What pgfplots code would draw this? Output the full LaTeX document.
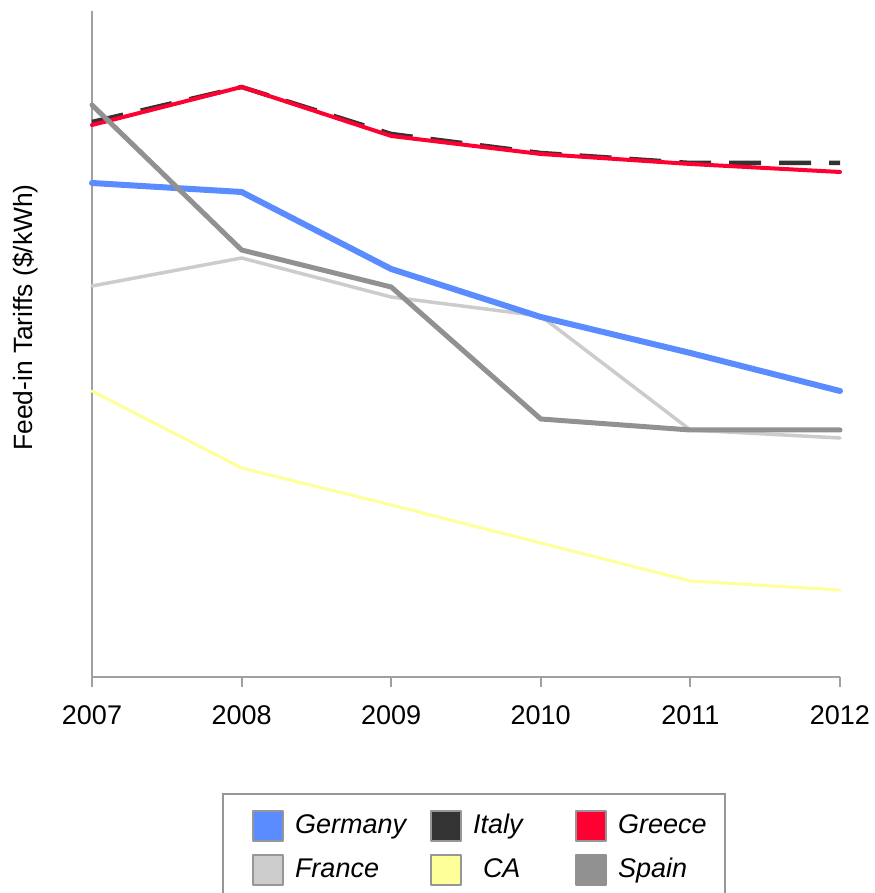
\documentclass[border=0pt]{standalone}
\usepackage{pgfplots}
\pgfplotsset{compat=1.18}
\usepackage{fontspec}
\setmainfont{Liberation Sans}

\definecolor{cGermany}{RGB}{90,140,255}
\definecolor{cItaly}{RGB}{51,51,51}
\definecolor{cGreece}{RGB}{255,0,51}
\definecolor{cFrance}{RGB}{204,204,204}
\definecolor{cCA}{RGB}{255,255,153}
\definecolor{cSpain}{RGB}{145,145,145}
\definecolor{axisgray}{RGB}{160,160,160}
\definecolor{legbord}{RGB}{150,150,150}

\pgfplotsset{
  sq/.style={legend image code/.code={
      \draw[line width=1pt,draw=legbord,fill=#1] (0pt,-7.5pt) rectangle (15pt,7.5pt);}},
}

\begin{document}
\begin{tikzpicture}
\path[use as bounding box] (-46pt,-108pt) rectangle (391pt,338.5pt);
\begin{axis}[
  at={(0,0)}, anchor=south west,
  scale only axis, width=374pt, height=333pt,
  xmin=2007, xmax=2012, ymin=0, ymax=0.666,
  axis x line=bottom, axis y line=left,
  axis line style={draw=axisgray, line width=1pt, -},
  xtick={2007,...,2012},
  xticklabels={2007,2008,2009,2010,2011,2012},
  ytick=\empty,
  x tick style={draw=axisgray, line width=1pt},
  tick align=outside, major tick length=5pt,
  xticklabel style={font=\fontsize{13.5}{16}\selectfont, yshift=-6pt},
  /pgf/number format/assume math mode=true,
  ylabel={Feed-in Tariffs (\$/kWh)},
  ylabel style={at={(axis description cs:-0.0896,0.5398)}, anchor=center,
                font=\fontsize{13.2}{15}\selectfont},
  clip=false,
  every axis plot/.append style={line cap=round, line join=round},
  legend columns=3,
  legend style={
    at={(axis description cs:0.1738,-0.1742)}, anchor=north west,
    draw=legbord, line width=1pt,
    inner xsep=14.5pt, inner ysep=8pt,
    column sep=0pt, row sep=6pt,
    font=\fontsize{13.5}{16}\selectfont\itshape,
    nodes={inner xsep=0pt, inner ysep=0pt, text height=9.5pt, text depth=2.5pt},
  },
]
% France and CA lie under the other series
\addplot[forget plot, color=cFrance, line width=1.75pt] coordinates {
  (2007,0.391) (2008,0.419) (2009,0.380) (2010,0.361) (2011,0.247) (2012,0.239)};
\addplot[forget plot, color=cCA, line width=1.5pt] coordinates {
  (2007,0.286) (2008,0.209) (2009,0.172) (2010,0.134) (2011,0.096) (2012,0.087)};
\addplot[forget plot, color=cGermany, line width=3pt] coordinates {
  (2007,0.494) (2008,0.485) (2009,0.408) (2010,0.360) (2011,0.324) (2012,0.286)};
\addplot[forget plot, color=cItaly, line width=2.25pt, line cap=butt,
         dash pattern=on 16pt off 9pt] coordinates {
  (2007,0.555) (2008,0.590) (2009,0.543) (2010,0.524) (2011,0.514) (2012,0.514)};
\addplot[forget plot, color=cGreece, line width=2pt] coordinates {
  (2007,0.552) (2008,0.590) (2009,0.541) (2010,0.523) (2011,0.513) (2012,0.505)};
\addplot[forget plot, color=cSpain, line width=2.5pt] coordinates {
  (2007,0.572) (2008,0.427) (2009,0.390) (2010,0.258) (2011,0.247) (2012,0.247)};

% legend, in reading order
\addlegendimage{sq=cGermany}
\addlegendentry{\hspace{5.5pt}\makebox[67.5pt][l]{Germany}}
\addlegendimage{sq=cItaly}
\addlegendentry{\hspace{5.5pt}\makebox[51pt][l]{Italy}}
\addlegendimage{sq=cGreece}
\addlegendentry{\hspace{5.5pt}\makebox[39pt][l]{Greece}}
\addlegendimage{sq=cFrance}
\addlegendentry{\hspace{5.5pt}\makebox[67.5pt][l]{France}}
\addlegendimage{sq=cCA}
\addlegendentry{\hspace{5.5pt}\makebox[51pt][l]{\hspace{5pt}CA}}
\addlegendimage{legend image code/.code={
    \draw[line width=1pt,draw=cSpain,fill=cSpain] (0pt,-7.5pt) rectangle (15pt,7.5pt);}}
\addlegendentry{\hspace{5.5pt}\makebox[39pt][l]{Spain}}
\end{axis}
\end{tikzpicture}
\end{document}
